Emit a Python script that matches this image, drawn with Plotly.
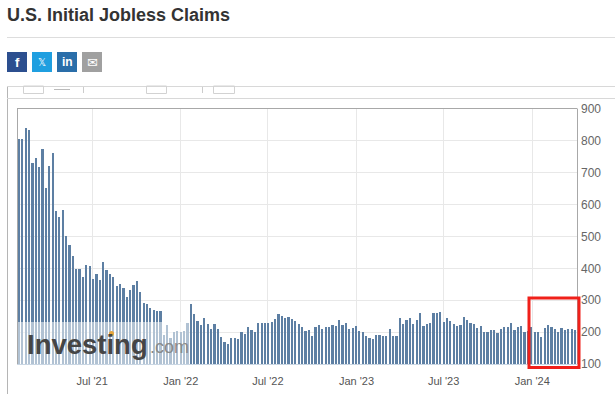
import pandas as pd
import plotly.graph_objects as go

claims = [806,806,840,834,731,747,719,775,653,722,762,581,562,584,503,472,440,
399,399,373,412,408,367,381,362,419,394,381,373,344,350,340,310,331,347,359,325,292,287,277,269,266,266,
191,222,183,201,203,199,203,229,287,256,234,222,243,227,
211,225,211,184,169,162,181,181,178,200,194,216,206,200,228,228,228,228,231,241,256,250,244,247,241,234,225,216,203,206,187,216,222,209,216,216,222,219,237,222,228,209,212,219,203,200,187,181,178,191,191,187,187,209,187,187,244,225,237,244,
225,237,259,219,225,228,259,259,262,231,244,234,225,219,222,247,237,228,225,212,219,200,200,206,206,197,209,216,216,228,206,216,219,200,203,216,200,200,184,212,222,216,209,200,212,206,209,209,206]
last_week = "2024-03-30"
x_tick_dates = ["2021-07-01","2022-01-01","2022-07-01","2023-01-01","2023-07-01","2024-01-01"]
x_tick_labels = ["Jul '21","Jan '22","Jul '22","Jan '23","Jul '23","Jan '24"]
y_ticks = [100,200,300,400,500,600,700,800,900]
weeks = pd.date_range(end=last_week, periods=len(claims), freq="7D")

W, H = 615, 394
L, R, T, B = 17, 577, 109, 364

fig = go.Figure(go.Bar(x=weeks, y=claims, marker=dict(color="#5d7fa3", line_width=0),
                       width=0.66*7*86400000))
def px(x): return (x-L)/(R-L)
def py(y): return (B-y)/(B-T)
shapes = []
def rect(x0,y0,x1,y1,fill=None,line=None,lw=1,layer="above"):
    shapes.append(dict(type="rect",xref="paper",yref="paper",x0=px(x0),x1=px(x1),y0=py(y0),y1=py(y1),
        fillcolor=fill or "rgba(0,0,0,0)",line=dict(color=line or "rgba(0,0,0,0)",width=lw if line else 0),layer=layer))
def seg(x0,y0,x1,y1,c,lw=1):
    shapes.append(dict(type="line",xref="paper",yref="paper",x0=px(x0),x1=px(x1),y0=py(y0),y1=py(y1),
        line=dict(color=c,width=lw),layer="above"))
# watermark veil
rect(17,322,189,364.5,fill="rgba(255,255,255,0.52)")
# page furniture
seg(7,37.5,615,37.5,"#dddddd")
seg(7.5,87,7.5,394,"#b5b5b5")
seg(7,86.5,615,86.5,"#d8d8d8")
seg(7,98.5,615,98.5,"#d8d8d8")
seg(17.5,108.5,17.5,364,"#a8a8a8")
seg(17,108.5,577,108.5,"#a8a8a8")
seg(577.5,108.5,577.5,364,"#a8a8a8")
seg(17,364.5,577,364.5,"#c9d6e3")
# toolbar remnants
for x0,x1 in [(23,43),(146,166),(213,234)]:
    rect(x0+.5,86,x1+.5,93.5,line="#d2d2d2")
seg(54,89.5,70,89.5,"#bbbbbb")
seg(83.5,87,83.5,93,"#cccccc")
seg(202.5,87,202.5,93,"#cccccc")
# share buttons
for x0,c in [(7,"#2c4f8f"),(32,"#1f9fe0"),(57,"#2a6ea9"),(82,"#a0a0a0")]:
    rect(x0,52,x0+20,72,fill=c)
# highlight box
rect(529,298,579,367.5,line="#f0201a",lw=3)
# logo accent
shapes.append(dict(type="circle",xref="paper",yref="paper",x0=px(109),x1=px(114),y0=py(331),y1=py(336),
                   fillcolor="#e8a53a",line_width=0,layer="above"))

anns = []
def txt(x,y,s,size,color,anchor="left",family="Liberation Sans",bold=False):
    anns.append(dict(xref="paper",yref="paper",x=px(x),y=py(y),text=f"<b>{s}</b>" if bold else s,showarrow=False,
        xanchor=anchor,yanchor="middle",font=dict(size=size,color=color,family=family),borderpad=0,borderwidth=0))
txt(7,15,"U.S. Initial Jobless Claims",18,"#333333",bold=True)
txt(17,62,"f",13,"#ffffff","center",bold=True)
txt(42,62,"𝕏",10,"#ffffff","center","DejaVu Sans")
txt(67,62,"in",12,"#ffffff","center",bold=True)
txt(92,62,"✉",13,"#ffffff","center","DejaVu Sans")
txt(27,344,"Investing",27.5,"#454545",bold=True)
txt(150,347,".com",18,"#8a8a8a")

fig.update_layout(
    width=W, height=H, autosize=False, showlegend=False, bargap=0,
    paper_bgcolor="white", plot_bgcolor="white",
    margin=dict(l=L, r=W-R, t=T, b=H-B, pad=0),
    shapes=shapes, annotations=anns,
    font=dict(family="Liberation Sans", size=12, color="#555555"),
    xaxis=dict(type="date", range=["2021-01-26","2024-04-03"], tickmode="array", automargin=False,
               tickvals=x_tick_dates, ticktext=x_tick_labels, showgrid=True, gridcolor="#e8e8e8",
               zeroline=False, ticks="", showline=False, ticklabelstandoff=9,
               tickfont=dict(size=11, color="#555555")),
    yaxis=dict(range=[100,900], side="right", tickmode="array", tickvals=y_ticks, showgrid=True, automargin=False,
               gridcolor="#e8e8e8", zeroline=False, ticks="", showline=False, ticklabelstandoff=3,
               tickfont=dict(size=12, color="#666666")),
)
fig.write_html("out.html", config=dict(displayModeBar=False),
               post_script="document.body.style.margin='0';document.body.style.overflow='hidden';")
